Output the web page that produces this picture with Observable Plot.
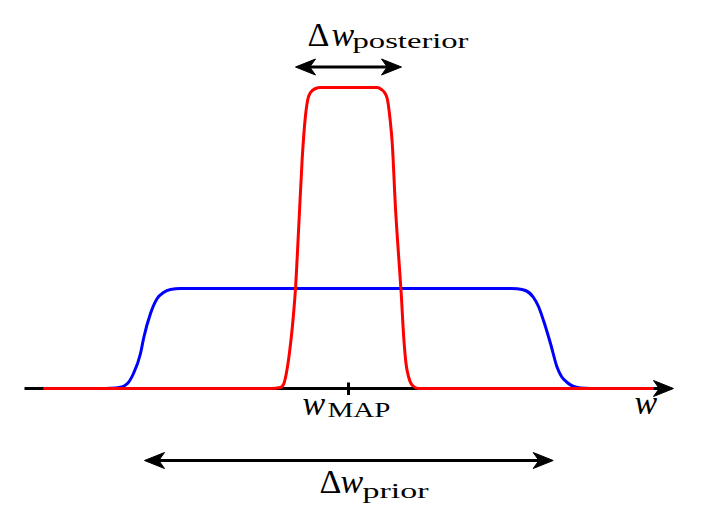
<!DOCTYPE html>
<html>
<head>
<meta charset="utf-8">
<script src="https://cdn.jsdelivr.net/npm/d3@7"></script>
<script src="https://cdn.jsdelivr.net/npm/@observablehq/plot@0.6"></script>
<style>
  html, body { margin: 0; padding: 0; background: #fff; }
  #chart svg { display: block; }
</style>
</head>
<body>
<div id="chart"></div>
<script>
// Prior (blue) curve samples: w, density
const blueW = [-3.04, -2.48, -2.38, -2.28, -2.21, -2.15, -2.08, -2.047, -1.98, -1.913, -1.85, -1.78, -1.68,
               1.62, 1.687, 1.77, 1.85, 1.90, 1.95, 2.02, 2.087, 2.13, 2.187, 2.25, 2.32, 2.42, 3.04];
const blueV = [0, 0, 0.002, 0.013, 0.05, 0.15, 0.35, 0.51, 0.75, 0.90, 0.96, 0.99, 1.0,
               1.0, 0.997, 0.98, 0.91, 0.82, 0.68, 0.45, 0.21, 0.12, 0.06, 0.02, 0.005, 0, 0];
// Posterior (red) curve samples
const redW = [-3.04, -0.78, -0.68, -0.65, -0.613, -0.59, -0.563, -0.53, -0.497, -0.463, -0.43, -0.405, -0.38, -0.33, -0.28,
              0.287, 0.33, 0.36, 0.387, 0.415, 0.437, 0.47, 0.503, 0.527, 0.553, 0.575, 0.603, 0.64, 0.70, 3.04];
const redV = [0, 0, 0.01, 0.04, 0.20, 0.36, 0.60, 1.0, 1.63, 2.30, 2.73, 2.90, 2.96, 3.00, 3.01,
              3.01, 2.99, 2.96, 2.90, 2.70, 2.46, 1.80, 1.30, 0.95, 0.50, 0.25, 0.11, 0.03, 0, 0];

// Annotation anchors (data units)
const axisStart = -3.24, axisEnd = 3.24;
const wMAP = 0;
const postArrow = {w1: -0.52, w2: 0.52, v: 3.215};
const priorArrow = {w1: -2.03, w2: 2.037, v: -0.72};

// Labels
const deltaLabels = [{t: "Δ", w: -0.41, v: 3.43}, {t: "Δ", w: -0.29, v: -1.04}];
const wLabels = [{t: "w", w: -0.17, v: 3.43}, {t: "w", w: -0.08, v: -1.04}, {t: "w", w: -0.46, v: -0.26}, {t: "w", w: 2.86, v: -0.25}];
const subLabels = [{t: "posterior", w: 0.04, v: 3.41}, {t: "prior", w: 0.14, v: -1.09}, {t: "MAP", w: -0.21, v: -0.28}];
const subWidths = {posterior: 116, prior: 66, MAP: 63};

const blue = blueW.map((w, i) => ({w, v: blueV[i]}));
const red = redW.map((w, i) => ({w, v: redV[i]}));

const serif = "'Liberation Serif', 'DejaVu Serif', 'Times New Roman', serif";

// Filled arrowhead symbol, tip at origin, pointing right
const head = {
  draw(ctx) {
    const L = 19, H = 8;
    ctx.moveTo(1, 0);
    ctx.lineTo(-L, -H);
    ctx.lineTo(-0.7 * L, 0);
    ctx.lineTo(-L, H);
    ctx.closePath();
  }
};

const heads = [
  {w: axisEnd, v: 0, r: 0},
  {w: postArrow.w1, v: postArrow.v, r: 180},
  {w: postArrow.w2, v: postArrow.v, r: 0},
  {w: priorArrow.w1, v: priorArrow.v, r: 180},
  {w: priorArrow.w2, v: priorArrow.v, r: 0}
];
const shafts = [
  {w1: axisStart, w2: axisEnd - 0.1, v: 0},
  {w1: postArrow.w1 + 0.1, w2: postArrow.w2 - 0.1, v: postArrow.v},
  {w1: priorArrow.w1 + 0.1, w2: priorArrow.w2 - 0.1, v: priorArrow.v}
];

const svg = Plot.plot({
  width: 720,
  height: 518,
  margin: 0,
  x: {domain: [-3.48, 3.72], axis: null},
  y: {domain: [-1.30, 3.88], axis: null},
  marks: [
    Plot.link(shafts, {x1: "w1", x2: "w2", y1: "v", y2: "v", stroke: "black", strokeWidth: 3}),
    Plot.dot(heads, {x: "w", y: "v", rotate: "r", symbol: head, r: 5, fill: "black", stroke: "black", strokeWidth: 1, strokeLinejoin: "round"}),
    Plot.ruleX([wMAP], {y1: -0.07, y2: 0.055, stroke: "black", strokeWidth: 3}),
    Plot.line(blue, {x: "w", y: "v", stroke: "#0000ff", strokeWidth: 3, curve: "monotone-x"}),
    Plot.line(red, {x: "w", y: "v", stroke: "#ff0000", strokeWidth: 3, curve: "monotone-x"}),
    Plot.text(deltaLabels, {x: "w", y: "v", text: "t", textAnchor: "start", lineAnchor: "bottom",
      fontFamily: serif, fontSize: 34, fill: "black"}),
    Plot.text(wLabels, {x: "w", y: "v", text: "t", textAnchor: "start", lineAnchor: "bottom",
      fontFamily: serif, fontStyle: "italic", fontSize: 34, fill: "black"}),
    Plot.text(subLabels, {x: "w", y: "v", text: "t", textAnchor: "start", lineAnchor: "bottom",
      fontFamily: serif, fontSize: 21, fill: "black"})
  ]
});

svg.querySelectorAll("text").forEach(el => {
  el.style.fontFamily = serif;
  const t = el.textContent;
  if (subWidths[t]) {
    el.setAttribute("textLength", subWidths[t]);
    el.setAttribute("lengthAdjust", "spacingAndGlyphs");
  }
});

document.getElementById("chart").appendChild(svg);
</script>
</body>
</html>
